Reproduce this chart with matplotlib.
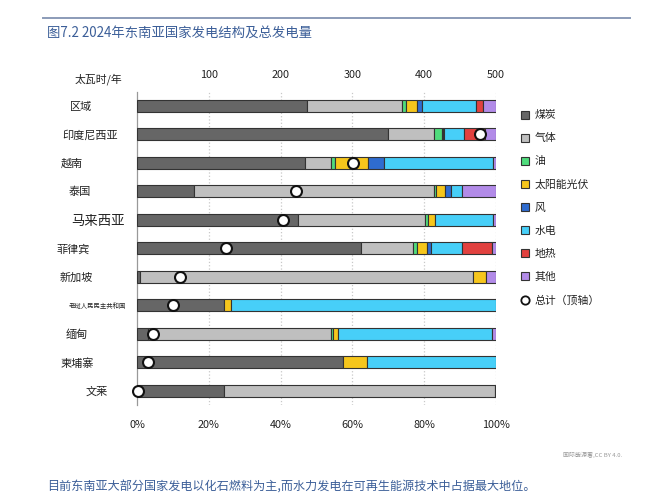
import matplotlib
matplotlib.use('Agg')
import matplotlib.pyplot as plt
from matplotlib.patches import Patch
from matplotlib.lines import Line2D

plt.rcParams['font.family'] = ['Noto Sans CJK SC', 'DejaVu Sans']

# Data
countries = ['区域', '印度尼西亚', '越南', '泰国', '马来西亚', '菲律宾',
             '新加坡', '老挝人民民主共和国', '缅甸', '柬埔寨', '文莱']
sources = ['煤炭', '气体', '油', '太阳能光伏', '风', '水电', '地热', '其他']

# share of generation, % (same order as countries)
coal = [47.3, 69.8, 46.7, 16.0, 44.8, 62.5, 0.9, 24.2, 3.0, 57.3, 24.2]
gas = [26.4, 13.0, 7.2, 66.8, 35.3, 14.3, 92.8, 0.0, 51.1, 0.0, 75.5]
oil = [1.2, 2.1, 1.3, 0.5, 1.0, 1.1, 0.0, 0.0, 0.6, 0.0, 0.0]
solar = [3.2, 0.3, 9.2, 2.5, 1.9, 2.8, 3.5, 2.0, 1.2, 6.7, 0.0]
wind = [1.4, 0.2, 4.3, 1.6, 0.0, 1.1, 0.0, 0.0, 0.0, 0.0, 0.0]
hydro = [14.8, 5.6, 30.6, 3.1, 16.3, 8.6, 0.0, 73.8, 42.9, 36.0, 0.0]
geothermal = [2.1, 5.9, 0.0, 0.0, 0.0, 8.4, 0.0, 0.0, 0.0, 0.0, 0.0]
other = [3.6, 3.1, 0.7, 9.5, 0.7, 1.2, 2.8, 0.0, 1.2, 0.0, 0.3]

# total generation, TWh/yr (top axis); region total is off the scale
totals = [None, 478, 301, 222, 204, 124, 60, 50, 22, 16, 1]

pct_ticks = [0, 20, 40, 60, 80, 100]
twh_ticks = [100, 200, 300, 400, 500]

colors = ['#666666', '#bfbfbf', '#4fdc7c', '#f6c61c', '#2f6ccf',
          '#47cff8', '#e1413f', '#b28be8']
blue_text = '#3b5e98'
dark_text = '#222222'

series = [coal, gas, oil, solar, wind, hydro, geothermal, other]

fig = plt.figure(figsize=(6.5, 5.04), dpi=100)
W, H = 650, 504

# header rule and title
fig.add_artist(Line2D([43 / W, 630 / W], [1 - 18 / H, 1 - 18 / H],
                      color='#8b9bb8', lw=1.4))
fig.text(47 / W, 1 - 33 / H, '图7.2 2024年东南亚国家发电结构及总发电量',
         fontsize=9.6, color=blue_text, va='center', ha='left')

ax = fig.add_axes([137 / W, 1 - 405 / H, 359 / W, 313 / H])
n = len(countries)

for i in range(n):
    left = 0
    for s, col in zip(series, colors):
        v = s[i]
        if v > 0:
            ax.barh(i, v, left=left, height=0.42, color=col,
                    edgecolor='#333333', linewidth=0.8, zorder=3)
        left += v

for t in pct_ticks[1:]:
    ax.axvline(t, color='#c8c8c8', ls=':', lw=0.9, zorder=1)

ax.set_xlim(0, 100)
ax.set_ylim(n - 0.5, -0.48)
ax.set_xticks(pct_ticks)
ax.set_xticklabels([f'{t}%' for t in pct_ticks])
ax.tick_params(axis='x', length=0, pad=11, labelsize=7.8, colors=dark_text)
ax.set_yticks([])
for sp in ['top', 'right', 'bottom']:
    ax.spines[sp].set_visible(False)
ax.spines['left'].set_color('#999999')
ax.spines['left'].set_linewidth(0.9)

# country labels (positions as in the reference)
label_x = [81, 90, 72, 80, 98, 73, 76, 97, 77, 77, 97]
label_size = [8, 8, 8, 8, 9.6, 8, 8, 4.6, 8, 8, 8]
for i, name in enumerate(countries):
    y_px = 106.7 + i * 28.5
    fig.text(label_x[i] / W, 1 - y_px / H, name, ha='center', va='center',
             fontsize=label_size[i], color=dark_text)

# totals on the top axis
ax2 = ax.twiny()
ax2.set_xlim(0, 500)
ax2.set_xticks(twh_ticks)
ax2.tick_params(axis='x', length=0, pad=9, labelsize=7.8, colors=dark_text)
for sp in ax2.spines.values():
    sp.set_visible(False)
tx = [t for t in totals if t is not None]
ty = [i for i, t in enumerate(totals) if t is not None]
ax2.scatter(tx, ty, s=62, facecolor='white', edgecolor='#111111',
            linewidth=1.5, zorder=5, clip_on=False)

fig.text(98 / W, 1 - 79 / H, '太瓦时/年', ha='center', va='center',
         fontsize=7.8, color=dark_text)

handles = [Patch(facecolor=c, edgecolor='#333333', linewidth=0.8)
           for c in colors]
handles.append(Line2D([], [], marker='o', ls='none', markersize=6,
                      markerfacecolor='white', markeredgecolor='#111111',
                      markeredgewidth=1.3))
labels = sources + ['总计（顶轴）']
fig.legend(handles, labels, loc='upper left',
           bbox_to_anchor=(517 / W, 1 - 106 / H), frameon=False,
           fontsize=7.8, handlelength=0.75, handleheight=0.75,
           handletextpad=0.45, labelspacing=1.2, borderaxespad=0,
           labelcolor=dark_text)

fig.text(622 / W, 1 - 455 / H, '国际能源署,CC BY 4.0.', ha='right',
         va='center', fontsize=4.3, color='#999999')
fig.text(47 / W, 1 - 487 / H,
         '目前东南亚大部分国家发电以化石燃料为主,而水力发电在可再生能源技术中占据最大地位。',
         ha='left', va='center', fontsize=8.7, color=blue_text)

fig.savefig('out.png', dpi=100)
